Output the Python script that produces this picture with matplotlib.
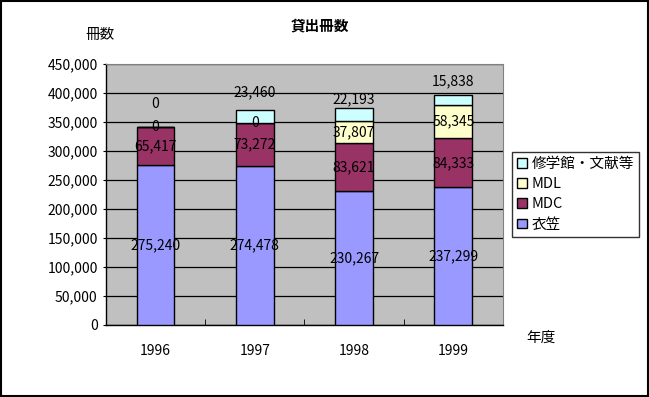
import matplotlib
matplotlib.use("Agg")
import matplotlib.pyplot as plt
from matplotlib.patches import Rectangle
import numpy as np

plt.rcParams["font.family"] = ["Noto Sans CJK JP", "DejaVu Sans"]

YEARS = ["1996", "1997", "1998", "1999"]
SERIES = ["衣笠", "MDC", "MDL", "修学館・文献等"]
KINUGASA = [275240, 274478, 230267, 237299]
MDC = [65417, 73272, 83621, 84333]
MDL = [0, 0, 37807, 58345]
SHUGAKUKAN = [0, 23460, 22193, 15838]
COLORS = ["#9999FF", "#993366", "#FFFFCC", "#CCFFFF"]
# pixel offset of the top-segment labels above the bar top
TOP_LABEL_OFFSET = [23, 17, 9, 14]


def main():
    fig = plt.figure(figsize=(6.49, 3.97), dpi=100)
    ax = fig.add_axes([0.1633, 0.1814, 0.6117, 0.6574])
    ax.set_facecolor("#C0C0C0")

    x = np.arange(len(YEARS))
    data = [KINUGASA, MDC, MDL, SHUGAKUKAN]
    bottom = np.zeros(len(YEARS))
    handles = []
    for i, (name, vals, col) in enumerate(zip(SERIES, data, COLORS)):
        vals = np.array(vals, dtype=float)
        bars = ax.bar(x, vals, 0.38, bottom=bottom, color=col,
                      edgecolor="black", linewidth=1.0, label=name, zorder=3)
        handles.append(bars)
        for j, v in enumerate(vals):
            if i == len(SERIES) - 1:
                ax.annotate(f"{int(v):,}", xy=(x[j], bottom[j] + v),
                            xytext=(0, TOP_LABEL_OFFSET[j]),
                            textcoords="offset pixels", ha="center",
                            va="center", fontsize=10, zorder=5)
            else:
                ax.text(x[j], bottom[j] + v / 2, f"{int(v):,}",
                        ha="center", va="center", fontsize=10, zorder=5)
        bottom += vals

    ax.set_xlim(-0.5, len(YEARS) - 0.5)
    ax.set_ylim(0, 450000)
    ax.set_yticks(np.arange(0, 450001, 50000))
    ax.set_yticklabels([f"{int(t):,}" for t in np.arange(0, 450001, 50000)])
    ax.set_xticks(x)
    ax.set_xticklabels(YEARS)
    ax.set_xticks(np.arange(0.5, len(YEARS) - 0.5, 1), minor=True)
    ax.tick_params(axis="x", which="major", length=0, pad=14, labelsize=10)
    ax.tick_params(axis="x", which="minor", length=4, direction="in",
                   color="black")
    ax.tick_params(axis="y", length=2, labelsize=10, pad=4)
    ax.grid(True, axis="y", color="black", linewidth=0.9, zorder=1)
    ax.set_axisbelow(True)
    for s in ("top", "right"):
        ax.spines[s].set_color("#808080")
    for s in ("left", "bottom"):
        ax.spines[s].set_color("black")
        ax.spines[s].set_linewidth(1.0)

    fig.text(0.493, 0.937, "貸出冊数", ha="center", va="center",
             fontsize=10.5, fontweight="bold")
    fig.text(0.154, 0.912, "冊数", ha="center", va="center", fontsize=10.5)
    fig.text(0.834, 0.149, "年度", ha="center", va="center", fontsize=10.5)

    leg = ax.legend(handles[::-1], SERIES[::-1], loc="upper left",
                    bbox_to_anchor=(0.789, 0.617), bbox_transform=fig.transFigure,
                    frameon=True, fancybox=False, fontsize=10.5,
                    handlelength=0.65, handleheight=0.65, handletextpad=0.35,
                    labelspacing=0.42, borderpad=0.35, borderaxespad=0)
    leg.get_frame().set_edgecolor("black")
    leg.get_frame().set_linewidth(1.0)

    fig.patches.append(Rectangle((0.002, 0.003), 0.996, 0.994,
                                 transform=fig.transFigure, fill=False,
                                 edgecolor="black", linewidth=1.5))

    fig.savefig("out.png", dpi=100, facecolor="white")
    plt.close(fig)


if __name__ == "__main__":
    main()
